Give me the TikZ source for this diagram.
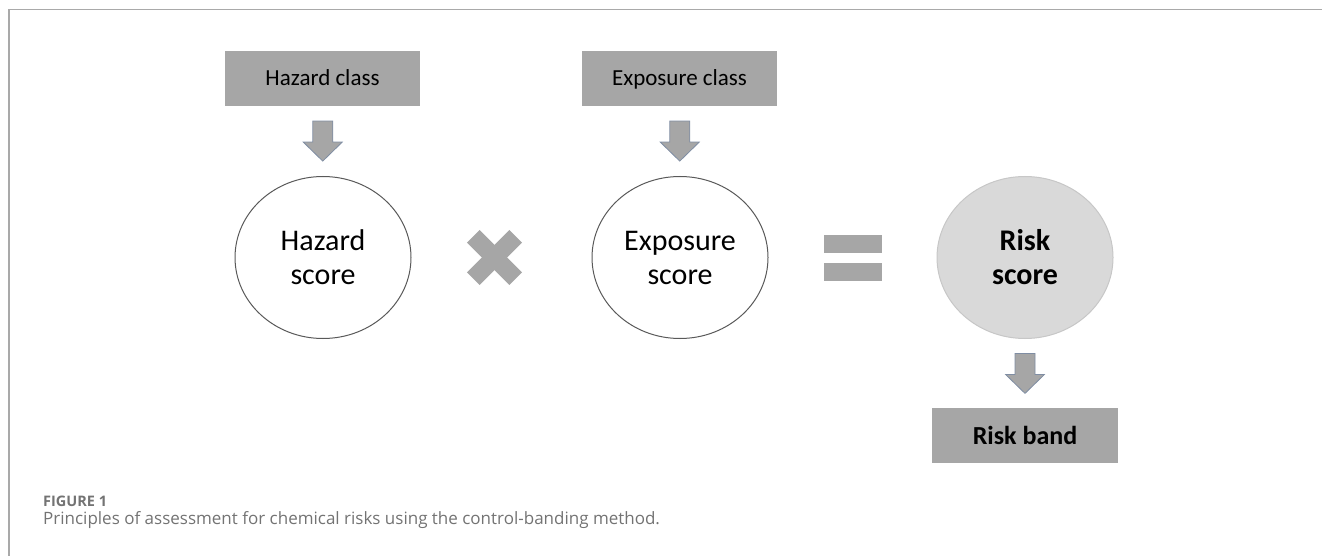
\documentclass[tikz,border=0pt]{standalone}
\usepackage{fontspec}
\setmainfont{Carlito}
\newfontfamily\capfont{Open Sans}
\usetikzlibrary{shapes.geometric,calc}
\definecolor{boxgray}{HTML}{A6A6A6}
\definecolor{riskgray}{HTML}{D9D9D9}
\definecolor{arrowedge}{HTML}{7F8DA3}
\definecolor{framegray}{HTML}{A9A9A9}
\definecolor{captext}{HTML}{737373}

\begin{document}
\begin{tikzpicture}[x=1pt,y=-1pt,
    classbox/.style={rectangle,fill=boxgray,minimum width=195pt,minimum height=55pt,inner sep=0pt,
      text height=18pt,text depth=3pt,font=\fontsize{23}{28}\selectfont},
    scorecircle/.style={ellipse,draw=black!65,line width=1pt,minimum width=176pt,minimum height=162pt,
      inner sep=0pt,align=center,font=\fontsize{30}{34}\selectfont},
    opbar/.style={rectangle,fill=boxgray,inner sep=0pt},
    captxt/.style={anchor=base west,inner sep=0pt,text=captext},
    downarrow/.pic={\filldraw[fill=boxgray,draw=arrowedge,line width=0.8pt]
      (-10,-20) -- (-10,1) -- (-19.5,1) -- (0,20) -- (19.5,1) -- (10,1) -- (10,-20) -- cycle;}]
  \useasboundingbox (0,0) rectangle (1322,556);
  \draw[framegray,line width=1.5pt] (9,556) -- (9,9.5) -- (1322,9.5);

  \begin{scope}
    \node[classbox] (hclass) at (322.5,78.5) {Hazard class};
    \node[classbox] (eclass) at (679.5,78.5) {Exposure class};
    \node[scorecircle] (hscore) at (323,257.5) {Hazard\\score};
    \node[scorecircle] (escore) at (680,257.5) {Exposure\\score};
    \node[scorecircle,fill=riskgray,draw=black!22,font=\fontsize{30}{34}\selectfont\bfseries]
      (rscore) at (1025,257.5) {Risk\\score};
    \node[classbox,minimum width=186pt,text height=19pt,text depth=2pt,
      font=\fontsize{26}{30}\selectfont\bfseries] (rband) at (1025,435.5) {Risk band};
  \end{scope}

  \begin{scope}
    \node[opbar,minimum width=60pt,minimum height=18pt,rotate=45] (times1) at (494.5,257.5) {};
    \node[opbar,minimum width=60pt,minimum height=18pt,rotate=-45] (times2) at (494.5,257.5) {};
    \node[opbar,minimum width=58pt,minimum height=18pt] (equal1) at (853,244) {};
    \node[opbar,minimum width=58pt,minimum height=18pt] (equal2) at (853,272) {};
  \end{scope}

  \begin{scope}
    \pic at ($(hclass.south)!0.5!(hscore.north)$) {downarrow};
    \pic at ($(eclass.south)!0.5!(escore.north)$) {downarrow};
    \pic at ($(rscore.south)!0.5!(rband.north)$) {downarrow};
  \end{scope}

  \node[captxt,font=\capfont\bfseries\fontsize{14.5}{17}\selectfont] (fignum) at (43,506) {FIGURE 1};
  \node[captxt,font=\capfont\fontsize{17}{20}\selectfont] (figcap) at (43,524)
    {Principles of assessment for chemical risks using the control-banding method.};
\end{tikzpicture}
\end{document}
